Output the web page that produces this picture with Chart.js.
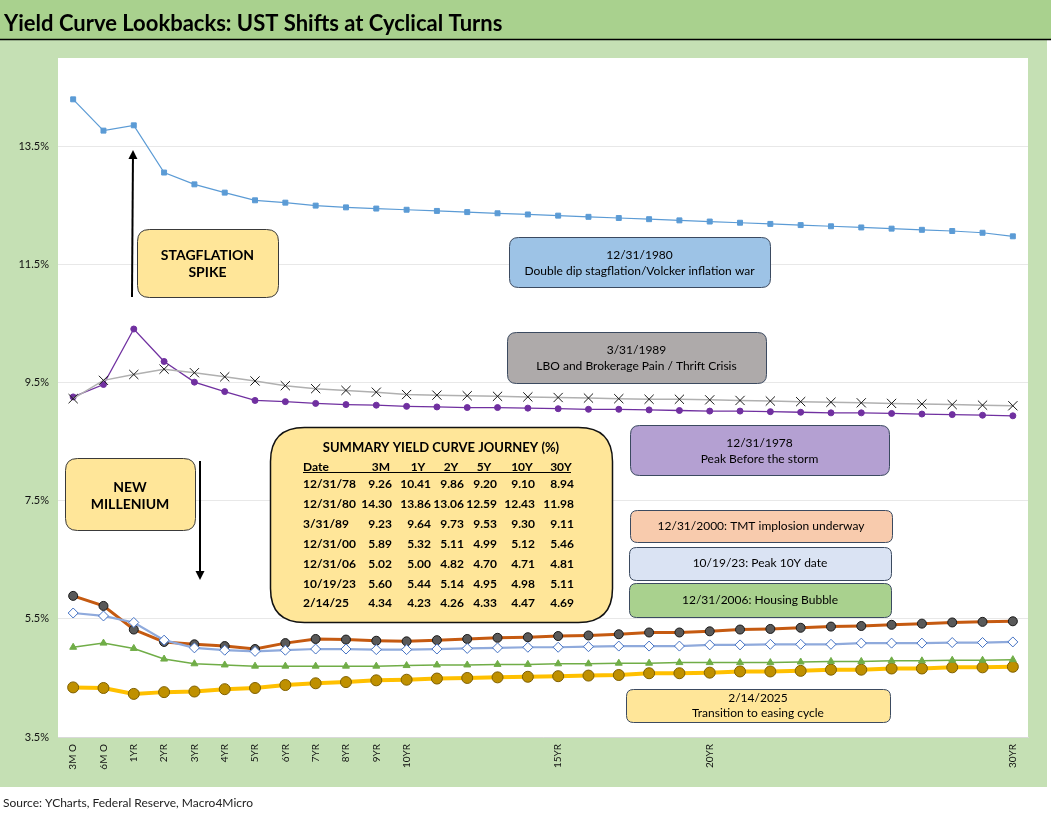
<!DOCTYPE html>
<html><head><meta charset="utf-8">
<script src="https://cdn.jsdelivr.net/npm/chart.js@4.4.1/dist/chart.umd.min.js"></script>
<style>html,body{margin:0;padding:0;background:#fff;overflow:hidden}#wrap{width:1051px;height:816px;position:relative}</style>
</head><body><div id="wrap"><canvas id="c" width="1051" height="816"></canvas></div>
<script>
// ---------- DATA ----------
const categories = ['3M O','6M O','1YR','2YR','3YR','4YR','5YR','6YR','7YR','8YR','9YR','10YR',
  '11YR','12YR','13YR','14YR','15YR','16YR','17YR','18YR','19YR','20YR','21YR','22YR','23YR','24YR',
  '25YR','26YR','27YR','28YR','29YR','30YR'];
const shownTickLabels = ['3M O','6M O','1YR','2YR','3YR','4YR','5YR','6YR','7YR','8YR','9YR','10YR','15YR','20YR','30YR'];
const yTickValues = [3.5, 5.5, 7.5, 9.5, 11.5, 13.5];

const y1980 = [14.30,13.77,13.86,13.06,12.86,12.72,12.59,12.55,12.50,12.47,12.45,12.43,12.41,12.39,12.37,12.35,12.33,12.31,12.29,12.27,12.25,12.23,12.21,12.19,12.17,12.15,12.13,12.11,12.09,12.07,12.04,11.98];
const y1989 = [9.23,9.54,9.64,9.73,9.67,9.60,9.53,9.45,9.40,9.37,9.34,9.30,9.29,9.28,9.27,9.26,9.25,9.24,9.23,9.22,9.22,9.21,9.20,9.19,9.18,9.17,9.16,9.15,9.14,9.13,9.12,9.11];
const y1978 = [9.26,9.47,10.41,9.86,9.51,9.35,9.20,9.18,9.15,9.13,9.12,9.10,9.09,9.08,9.08,9.07,9.06,9.05,9.05,9.04,9.03,9.02,9.02,9.01,9.00,8.99,8.99,8.98,8.97,8.96,8.95,8.94];
const y2000 = [5.89,5.72,5.32,5.11,5.07,5.04,4.99,5.09,5.16,5.15,5.13,5.12,5.14,5.16,5.18,5.19,5.21,5.22,5.24,5.27,5.27,5.29,5.32,5.33,5.35,5.37,5.38,5.40,5.42,5.44,5.45,5.46];
const y2023 = [5.60,5.55,5.44,5.14,5.01,4.97,4.95,4.97,4.99,4.99,4.98,4.98,4.99,5.00,5.01,5.02,5.02,5.03,5.04,5.04,5.04,5.06,5.06,5.07,5.07,5.07,5.09,5.09,5.09,5.10,5.10,5.11];
const y2006 = [5.02,5.09,5.00,4.82,4.74,4.72,4.70,4.70,4.70,4.70,4.70,4.71,4.72,4.72,4.73,4.73,4.74,4.74,4.75,4.75,4.76,4.76,4.76,4.76,4.77,4.78,4.78,4.79,4.79,4.80,4.80,4.81];
const y2025 = [4.34,4.33,4.23,4.26,4.27,4.31,4.33,4.38,4.41,4.43,4.46,4.47,4.49,4.50,4.51,4.52,4.53,4.54,4.55,4.58,4.58,4.59,4.61,4.61,4.62,4.64,4.64,4.66,4.66,4.68,4.68,4.69];

// summary table
const tableTitle = 'SUMMARY YIELD CURVE JOURNEY (%)';
const tableDates = ['12/31/78','12/31/80','3/31/89','12/31/00','12/31/06','10/19/23','2/14/25'];
const tableHeaders = ['3M','1Y','2Y','5Y','10Y','30Y'];
const t3M  = [9.26,14.30,9.23,5.89,5.02,5.60,4.34];
const t1Y  = [10.41,13.86,9.64,5.32,5.00,5.44,4.23];
const t2Y  = [9.86,13.06,9.73,5.11,4.82,5.14,4.26];
const t5Y  = [9.20,12.59,9.53,4.99,4.70,4.95,4.33];
const t10Y = [9.10,12.43,9.30,5.12,4.71,4.98,4.47];
const t30Y = [8.94,11.98,9.11,5.46,4.81,5.11,4.69];

const titleText = 'Yield Curve Lookbacks: UST Shifts at Cyclical Turns';
const sourceText = 'Source: YCharts, Federal Reserve, Macro4Micro';

// ---------- DRAWING ----------
const FONT = 'Lato, "Open Sans", sans-serif';

function rrect(ctx, x, y, w, h, r) {
  ctx.beginPath();
  ctx.moveTo(x + r, y);
  ctx.lineTo(x + w - r, y);
  ctx.quadraticCurveTo(x + w, y, x + w, y + r);
  ctx.lineTo(x + w, y + h - r);
  ctx.quadraticCurveTo(x + w, y + h, x + w - r, y + h);
  ctx.lineTo(x + r, y + h);
  ctx.quadraticCurveTo(x, y + h, x, y + h - r);
  ctx.lineTo(x, y + r);
  ctx.quadraticCurveTo(x, y, x + r, y);
  ctx.closePath();
}

const boxes = [
  {x:137,y:229,w:141,h:68,r:12,fill:'#ffe699',stroke:'#3a3a3a',lines:['STAGFLATION','SPIKE'],bold:true,size:14,ly:[255,272]},
  {x:65,y:458,w:130,h:72,r:12,fill:'#ffe699',stroke:'#3a3a3a',lines:['NEW','MILLENIUM'],bold:true,size:14,ly:[487,504]},
  {x:509,y:237,w:261,h:50,r:9,fill:'#9dc3e6',stroke:'#3b4a60',lines:['12/31/1980','Double dip stagflation/Volcker inflation war'],size:12,ly:[255,271]},
  {x:507,y:332,w:259,h:51,r:9,fill:'#aeaaaa',stroke:'#3b4a60',lines:['3/31/1989','LBO and Brokerage Pain / Thrift Crisis'],size:12,ly:[350,366]},
  {x:630,y:425,w:259,h:50,r:9,fill:'#b4a0d2',stroke:'#3b4a60',lines:['12/31/1978','Peak Before the storm'],size:12,ly:[443,459]},
  {x:630,y:510,w:262,h:32,r:7,fill:'#f8cbad',stroke:'#3b4a60',lines:['12/31/2000: TMT implosion underway'],size:12,ly:[526]},
  {x:629,y:547,w:262,h:33,r:7,fill:'#dae3f3',stroke:'#3b4a60',lines:['10/19/23: Peak 10Y date'],size:12,ly:[563]},
  {x:629,y:583,w:262,h:34,r:7,fill:'#a9d18e',stroke:'#3b4a60',lines:['12/31/2006: Housing Bubble'],size:12,ly:[600]},
  {x:626,y:689,w:264,h:33,r:7,fill:'#ffe699',stroke:'#3b4a60',lines:['2/14/2025','Transition to easing cycle'],size:12,ly:[698,713]}
];

function arrow(ctx, x1, y1, x2, y2) {
  ctx.save();
  ctx.strokeStyle = '#000'; ctx.fillStyle = '#000'; ctx.lineWidth = 2;
  const ang = Math.atan2(y2 - y1, x2 - x1);
  const hl = 9, hw = 4.5;
  const bx = x2 - hl * Math.cos(ang), by = y2 - hl * Math.sin(ang);
  ctx.beginPath(); ctx.moveTo(x1, y1); ctx.lineTo(bx, by); ctx.stroke();
  ctx.beginPath();
  ctx.moveTo(x2, y2);
  ctx.lineTo(bx + hw * Math.sin(ang), by - hw * Math.cos(ang));
  ctx.lineTo(bx - hw * Math.sin(ang), by + hw * Math.cos(ang));
  ctx.closePath(); ctx.fill();
  ctx.restore();
}

const bgPlugin = {
  id: 'bg',
  beforeDraw(chart) {
    const ctx = chart.ctx, a = chart.chartArea;
    ctx.save();
    ctx.fillStyle = '#ffffff'; ctx.fillRect(0, 0, 1051, 816);
    ctx.fillStyle = '#c5e0b4'; ctx.fillRect(0, 39, 1047, 748);
    ctx.fillStyle = '#a9d18e'; ctx.fillRect(0, 0, 1051, 39);
    ctx.strokeStyle = '#000'; ctx.lineWidth = 1.5;
    ctx.beginPath(); ctx.moveTo(0, 39.5); ctx.lineTo(1051, 39.5); ctx.stroke();
    ctx.fillStyle = '#ffffff'; ctx.fillRect(a.left, a.top, a.right - a.left, a.bottom - a.top);
    ctx.fillStyle = '#000';
    ctx.font = 'bold 22px ' + FONT; ctx.textBaseline = 'alphabetic'; ctx.textAlign = 'left';
    ctx.fillText(titleText, 4, 31);
    ctx.font = '12px ' + FONT; ctx.fillStyle = '#222';
    ctx.fillText(sourceText, 3, 807);
    ctx.restore();
  },
  afterDatasetsDraw(chart) {
    const ctx = chart.ctx;
    ctx.save();
    // arrows
    arrow(ctx, 132, 297, 133, 150);
    arrow(ctx, 200, 461, 200, 580);
    // boxes
    boxes.forEach(b => {
      rrect(ctx, b.x + 0.5, b.y + 0.5, b.w, b.h, b.r);
      ctx.fillStyle = b.fill; ctx.fill();
      ctx.lineWidth = 1; ctx.strokeStyle = b.stroke; ctx.stroke();
      ctx.fillStyle = '#000';
      ctx.font = (b.bold ? 'bold ' : '') + b.size + 'px ' + FONT;
      ctx.textAlign = 'center'; ctx.textBaseline = 'middle';
      b.lines.forEach((t, i) => ctx.fillText(t, b.x + b.w / 2, b.ly[i]));
    });
    // summary table
    rrect(ctx, 270.5, 427.5, 342, 195, 34);
    ctx.fillStyle = '#ffe699'; ctx.fill();
    ctx.lineWidth = 1.5; ctx.strokeStyle = '#111'; ctx.stroke();
    ctx.fillStyle = '#000';
    ctx.font = 'bold 13px ' + FONT; ctx.textAlign = 'center'; ctx.textBaseline = 'middle';
    ctx.fillText(tableTitle, 441, 448);
    const rightEdges = [392, 431, 464, 497, 535, 574];
    const headCenters = [381, 418, 451, 484, 522, 561];
    ctx.font = 'bold 12px ' + FONT;
    ctx.textAlign = 'left'; ctx.fillText('Date', 303, 467);
    ctx.textAlign = 'center';
    tableHeaders.forEach((h, i) => ctx.fillText(h, headCenters[i], 467));
    ctx.lineWidth = 1; ctx.strokeStyle = '#000';
    ctx.beginPath(); ctx.moveTo(303, 472.5); ctx.lineTo(571, 472.5); ctx.stroke();
    const cols = [t3M, t1Y, t2Y, t5Y, t10Y, t30Y];
    const rowY = [484, 504, 524, 544, 564, 584, 603];
    ctx.font = 'bold 12px ' + FONT;
    tableDates.forEach((d, r) => {
      ctx.textAlign = 'left'; ctx.fillText(d, 303, rowY[r]);
      ctx.textAlign = 'right';
      cols.forEach((c, ci) => ctx.fillText(c[r].toFixed(2), rightEdges[ci], rowY[r]));
    });
    ctx.restore();
  }
};

const ds = (label, data, o) => Object.assign({label, data, tension: 0, fill: false}, o);

new Chart(document.getElementById('c'), {
  type: 'line',
  data: {
    labels: categories,
    datasets: [
      ds('12/31/1980', y1980, {borderColor:'#5b9bd5', borderWidth:1.2, pointStyle:'rect', pointRadius:3.5, pointBackgroundColor:'#5b9bd5', pointBorderColor:'#5b9bd5', pointBorderWidth:1}),
      ds('3/31/1989', y1989, {borderColor:'#b0b0b0', borderWidth:1.5, pointStyle:'crossRot', pointRadius:6.5, pointBorderColor:'#1a1a1a', pointBorderWidth:1}),
      ds('12/31/1978', y1978, {borderColor:'#7030a0', borderWidth:1.3, pointStyle:'circle', pointRadius:3, pointBackgroundColor:'#7030a0', pointBorderColor:'#7030a0', pointBorderWidth:1}),
      ds('10/19/23', y2023, {borderColor:'#8faadc', borderWidth:2.2, pointStyle:'rectRot', pointRadius:5, pointBackgroundColor:'#ffffff', pointBorderColor:'#4472c4', pointBorderWidth:1}),
      ds('12/31/2000', y2000, {borderColor:'#c55a11', borderWidth:3, pointStyle:'circle', pointRadius:4.5, pointBackgroundColor:'#595959', pointBorderColor:'#1a1a1a', pointBorderWidth:1}),
      ds('12/31/2006', y2006, {borderColor:'#70ad47', borderWidth:1.5, pointStyle:'triangle', pointRadius:4, pointBackgroundColor:'#70ad47', pointBorderColor:'#70ad47', pointBorderWidth:1}),
      ds('2/14/25', y2025, {borderColor:'#ffc000', borderWidth:4, pointStyle:'circle', pointRadius:5.5, pointBackgroundColor:'#bf9000', pointBorderColor:'#7f6000', pointBorderWidth:1})
    ]
  },
  options: {
    responsive: false, animation: false, devicePixelRatio: 1,
    layout: {padding: {top: 58, left: 0, right: 23, bottom: 29}},
    plugins: {legend: {display: false}, tooltip: {enabled: false}},
    scales: {
      x: {
        type: 'category', offset: true,
        grid: {display: false, drawTicks: false},
        border: {display: true, color: '#d9d9d9'},
        ticks: {
          autoSkip: false, maxRotation: 90, minRotation: 90, padding: 7,
          color: '#111', font: {family: FONT, size: 10},
          callback: function(v, i) { const l = categories[i]; return shownTickLabels.includes(l) ? l : ''; }
        },
        afterFit(axis) { axis.height = 50; }
      },
      y: {
        min: 3.5, max: 15,
        grid: {color: '#e8e8e8', drawTicks: false},
        border: {display: false},
        ticks: {padding: 9, color: '#111', font: {family: FONT, size: 11}, callback: v => v.toFixed(1) + '%'},
        afterBuildTicks(axis) { axis.ticks = yTickValues.map(v => ({value: v})); },
        afterFit(axis) { axis.width = 58; }
      }
    }
  },
  plugins: [bgPlugin]
});
</script>
</body></html>
